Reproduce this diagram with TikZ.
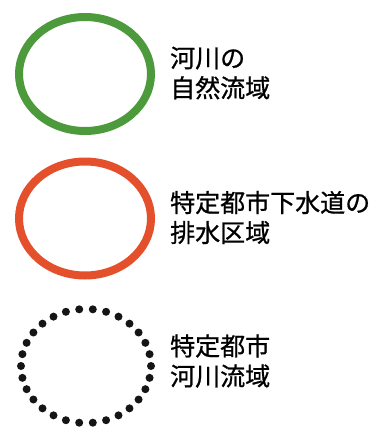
\documentclass[tikz,border=0pt]{standalone}
\usepackage{fontspec}
\newfontfamily\jp[FakeBold=0.8]{Noto Sans CJK JP}
\usetikzlibrary{shapes.geometric,calc}
\definecolor{ringgreen}{HTML}{4C9A3C}
\definecolor{ringred}{HTML}{E4502C}
\definecolor{dotblack}{HTML}{151515}
\begin{document}
\begin{tikzpicture}[x=1pt,y=-1pt,
  ring/.style={ellipse,draw,line width=8pt,minimum width=132pt,minimum height=114pt,inner sep=0pt},
  label/.style={anchor=west,align=left,inner sep=0pt,font=\jp\fontsize{25pt}{30pt}\selectfont,text=black}]
\useasboundingbox[fill=white] (0,0) rectangle (374,428);
\node[ring,draw=ringgreen] (green) at (85,74) {};
\node[label] (tgreen) at (170,73) {河川の\\自然流域};
\node[ring,draw=ringred] (red) at (85,218.5) {};
\node[label] (tred) at (170,217.5) {特定都市下水道の\\排水区域};
\coordinate (dc) at (86,366);
\foreach \a in {0,...,29}{
  \fill[dotblack] ($(dc)+({65*cos(96+12*\a)},{-57*sin(96+12*\a)})$) circle[radius=4pt];
}
\node[label] (tdot) at (170,361) {特定都市\\河川流域};
\end{tikzpicture}
\end{document}
